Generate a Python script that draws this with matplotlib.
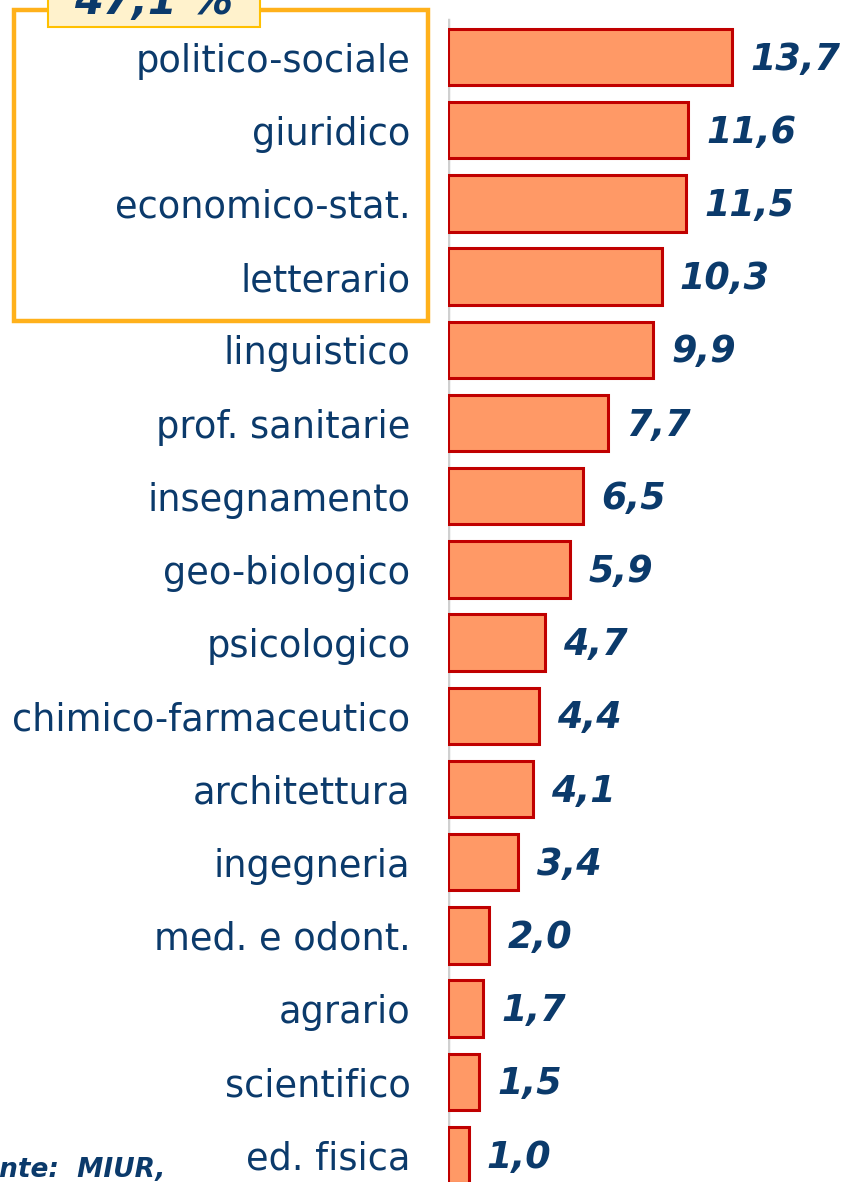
import matplotlib
matplotlib.use("Agg")
import matplotlib.pyplot as plt
from matplotlib.patches import Rectangle

categories = ["politico-sociale", "giuridico", "economico-stat.", "letterario",
              "linguistico", "prof. sanitarie", "insegnamento", "geo-biologico",
              "psicologico", "chimico-farmaceutico", "architettura", "ingegneria",
              "med. e odont.", "agrario", "scientifico", "ed. fisica"]
values = [13.7, 11.6, 11.5, 10.3, 9.9, 7.7, 6.5, 5.9, 4.7, 4.4, 4.1, 3.4, 2.0, 1.7, 1.5, 1.0]
value_labels = ["13,7", "11,6", "11,5", "10,3", "9,9", "7,7", "6,5", "5,9",
                "4,7", "4,4", "4,1", "3,4", "2,0", "1,7", "1,5", "1,0"]
box_label = "47,1 %"
source_label = "Fonte:  MIUR,"

W, H = 846, 1182
DPI = 100
NAVY = "#0B3A6B"

fig = plt.figure(figsize=(W / DPI, H / DPI), dpi=DPI)
ax = fig.add_axes([448 / W, 0, (W - 448) / W, 1])

px_per_unit = (732 - 448) / 13.7
y0, dy = 57, 73.2
ypos = list(range(len(categories)))
ax.barh(ypos, values, height=0.77, color="#FF9966", edgecolor="#C00000", linewidth=2.2, zorder=3)
ax.set_xlim(0, (W - 448) / px_per_unit)
ax.set_ylim((H - y0) / dy, -y0 / dy)

for y, v, lab in zip(ypos, values, value_labels):
    ax.annotate(lab, (v, y), xytext=(13, -1.5), textcoords="offset points",
                ha="left", va="center", fontsize=26.3, fontweight="bold",
                fontstyle="italic", color=NAVY, zorder=4)

ax.set_yticks(ypos)
ax.set_yticklabels(categories, fontsize=26.5, color=NAVY)
ax.tick_params(axis="y", length=0, pad=27)
ax.set_xticks([])
for s in ["top", "right", "bottom", "left"]:
    ax.spines[s].set_visible(False)
ax.axvline(0, ymin=0, ymax=1 - 20 / H, color="#D0D0D0", linewidth=2.5, zorder=2)

# orange highlight box
fig.patches.append(Rectangle((14 / W, 1 - 321 / H), (428 - 14) / W, (321 - 10) / H,
                             transform=fig.transFigure, fill=False,
                             edgecolor="#FFB11B", linewidth=3.2, zorder=5))
fig.patches.append(Rectangle((48 / W, 1 - 27 / H), (260 - 48) / W, 60 / H,
                             transform=fig.transFigure, facecolor="#FFF2CC",
                             edgecolor="#FFC000", linewidth=1.5, zorder=6))
fig.text(154 / W, 1 - 14 / H, box_label, ha="center", va="baseline", fontsize=30,
         fontweight="bold", fontstyle="italic", color=NAVY, zorder=7)

fig.text(165 / W, 1 - 1177 / H, source_label, ha="right", va="baseline", fontsize=19,
         fontweight="bold", fontstyle="italic", color=NAVY)

fig.savefig("out.png", dpi=DPI)
